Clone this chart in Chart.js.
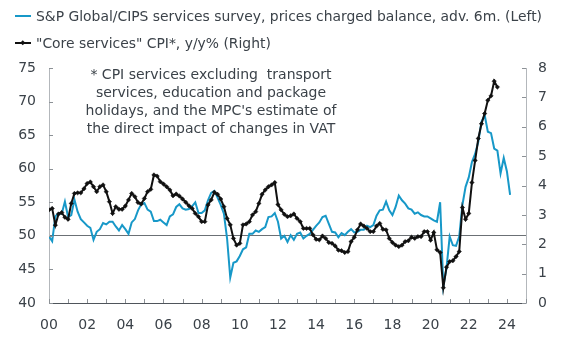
<!DOCTYPE html>
<html>
<head>
<meta charset="utf-8">
<script src="https://cdn.jsdelivr.net/npm/chart.js@4.4.1/dist/chart.umd.min.js"></script>
<style>
  body { margin: 0; background: #fff; }
  #wrap { position: relative; width: 571px; height: 345px; font-family: "DejaVu Sans", sans-serif; color: #3b4249; }
  canvas { position: absolute; left: 0; top: 0; }
  .key { position: absolute; left: 15px; font-size: 13.9px; line-height: 16px; white-space: nowrap; }
  .key svg { vertical-align: middle; margin-right: 5px; position: relative; top: -1px; }
  .note { position: absolute; left: 61px; width: 300px; top: 65px; text-align: center; font-size: 14px; line-height: 18px; white-space: pre; }
</style>
</head>
<body>
<div id="wrap">
  <canvas id="chart" width="571" height="345"></canvas>
  <div class="key" style="top:8px"><svg width="16" height="6"><line x1="0" y1="3" x2="16" y2="3" stroke="#1798c8" stroke-width="2"/></svg>S&amp;P Global/CIPS services survey, prices charged balance, adv. 6m. (Left)</div>
  <div class="key" style="top:35px"><svg width="16" height="6"><line x1="0" y1="3" x2="16" y2="3" stroke="#111" stroke-width="2"/><rect x="6" y="1" width="3.5" height="3.5" fill="#111" transform="rotate(45 7.75 2.75)"/></svg>"Core services" CPI*, y/y% (Right)</div>
  <div class="note">* CPI services excluding  transport
services, education and package
holidays, and the MPC's estimate of
the direct impact of changes in VAT</div>
</div>
<script>
// both series are bimonthly, starting January 2000
const startYear = 2000;
const step = 1 / 6;

// S&P Global/CIPS services PMI, prices charged, advanced 6 months (left axis)
const pmiPrices = [
  49.9, 49.2, 52.9, 53.4, 53.3, 55.1, 52.8, 53.1, 55.4, 53.6,
  52.5, 52.0, 51.5, 51.2, 49.4, 50.6, 51.0, 51.9, 51.7, 52.1,
  52.1, 51.4, 50.8, 51.6, 51.0, 50.3, 52.0, 52.5, 53.8, 54.7,
  54.9, 53.9, 53.6, 52.2, 52.2, 52.4, 52.0, 51.6, 52.9, 53.2,
  54.3, 54.7, 54.1, 53.9, 54.0, 54.4, 55.0, 53.4, 53.4, 53.8,
  55.3, 56.4, 56.7, 55.7, 54.6, 53.3, 49.6, 43.8, 46.0, 46.2,
  47.0, 48.0, 48.3, 50.3, 50.3, 50.8, 50.6, 51.0, 51.3, 52.8,
  52.9, 53.4, 52.1, 49.6, 50.0, 49.1, 50.1, 49.4, 50.3, 50.5,
  49.6, 50.0, 50.3, 50.9, 51.5, 52.0, 52.8, 53.0, 51.8, 50.6,
  50.5, 49.8, 50.4, 50.1, 50.6, 51.0, 50.5, 50.6, 50.9, 50.9,
  51.5, 51.3, 51.6, 53.0, 53.8, 53.9, 55.1, 53.8, 53.1, 54.3,
  56.0, 55.3, 54.8, 54.1, 53.9, 53.3, 53.5, 53.1, 52.9, 52.9,
  52.6, 52.3, 52.1, 55.0, 42.5, 45.2, 49.9, 48.6, 48.5, 49.9,
  54.6, 57.3, 58.7, 61.0, 62.2, 64.0, 67.0, 68.0, 65.5, 65.3,
  63.0, 62.7, 59.3, 61.6, 59.6, 56.1
];

// "core services" CPI, y/y % (right axis)
const coreServicesCpi = [
  3.17, 3.22, 2.65, 3.03, 3.08, 2.92, 2.85, 3.39, 3.73, 3.75,
  3.75, 3.89, 4.07, 4.12, 3.96, 3.79, 3.96, 4.02, 3.79, 3.45,
  3.05, 3.28, 3.19, 3.19, 3.30, 3.51, 3.73, 3.62, 3.42, 3.37,
  3.56, 3.79, 3.87, 4.36, 4.32, 4.13, 4.05, 3.96, 3.85, 3.65,
  3.71, 3.64, 3.54, 3.43, 3.31, 3.22, 3.05, 2.94, 2.77, 2.77,
  3.34, 3.51, 3.77, 3.70, 3.54, 3.28, 2.88, 2.66, 2.20, 1.97,
  2.03, 2.66, 2.69, 2.77, 3.00, 3.11, 3.39, 3.70, 3.85, 3.96,
  4.02, 4.10, 3.35, 3.17, 3.02, 2.94, 2.97, 3.03, 2.88, 2.77,
  2.54, 2.54, 2.54, 2.32, 2.17, 2.15, 2.28, 2.20, 2.06, 2.03,
  1.94, 1.80, 1.78, 1.72, 1.75, 2.09, 2.24, 2.49, 2.69, 2.62,
  2.54, 2.43, 2.43, 2.62, 2.71, 2.51, 2.49, 2.20, 2.06, 1.97,
  1.92, 1.97, 2.09, 2.12, 2.24, 2.20, 2.26, 2.26, 2.43, 2.43,
  2.14, 2.40, 1.81, 1.72, 0.52, 1.22, 1.41, 1.44, 1.58, 1.75,
  3.25, 2.85, 3.05, 4.10, 4.85, 5.60, 6.10, 6.45, 6.90, 7.05,
  7.55, 7.35
];

const leftTicks = [40, 45, 50, 55, 60, 65, 70, 75];
const rightTicks = [0, 1, 2, 3, 4, 5, 6, 7, 8];
const yearLabels = ['00', '02', '04', '06', '08', '10', '12', '14', '16', '18', '20', '22', '24'];

const toPoints = vals => vals.map((v, i) => ({ x: startYear + i * step, y: v }));

// small inward tick marks on all three axes
const tickMarks = {
  id: 'tickMarks',
  afterDraw(chart) {
    const { ctx, chartArea: a, scales } = chart;
    ctx.save();
    ctx.strokeStyle = '#8c9196';
    ctx.lineWidth = 1;
    ctx.beginPath();
    scales.x.ticks.forEach(t => {
      const px = Math.round(scales.x.getPixelForValue(t.value)) + 0.5;
      ctx.moveTo(px, a.bottom);
      ctx.lineTo(px, a.bottom - 4);
    });
    scales.y.ticks.forEach(t => {
      const py = Math.round(scales.y.getPixelForValue(t.value)) + 0.5;
      ctx.moveTo(a.left, py);
      ctx.lineTo(a.left + 4, py);
    });
    scales.y1.ticks.forEach(t => {
      const py = Math.round(scales.y1.getPixelForValue(t.value)) + 0.5;
      ctx.moveTo(a.right, py);
      ctx.lineTo(a.right - 4, py);
    });
    ctx.stroke();
    ctx.restore();
  }
};

Chart.defaults.font.family = '"DejaVu Sans", sans-serif';
Chart.defaults.font.size = 14;
Chart.defaults.color = '#3b4249';

new Chart(document.getElementById('chart'), {
  type: 'line',
  data: {
    datasets: [
      {
        label: '"Core services" CPI*, y/y% (Right)',
        data: toPoints(coreServicesCpi),
        yAxisID: 'y1',
        borderColor: '#111',
        borderWidth: 2,
        pointStyle: 'rectRot',
        pointRadius: 2.2,
        pointBackgroundColor: '#111',
        pointBorderColor: '#111',
        pointBorderWidth: 0.5,
        tension: 0
      },
      {
        label: 'S&P Global/CIPS services survey, prices charged balance, adv. 6m. (Left)',
        data: toPoints(pmiPrices),
        yAxisID: 'y',
        borderColor: '#1798c8',
        borderWidth: 2,
        pointRadius: 0,
        tension: 0
      }
    ]
  },
  options: {
    responsive: false,
    animation: false,
    devicePixelRatio: 1,
    layout: { padding: { top: 68, left: 0, right: 0, bottom: 0 } },
    plugins: { legend: { display: false }, tooltip: { enabled: false } },
    scales: {
      x: {
        type: 'linear',
        min: 2000,
        max: 2025,
        grid: { display: false },
        border: { color: '#4f555b', width: 1 },
        ticks: {
          stepSize: 1,
          autoSkip: false,
          maxRotation: 0,
          padding: 6,
          callback: v => {
            const i = yearLabels.indexOf(String(v % 100).padStart(2, '0'));
            return v % 2 === 0 && i >= 0 && v <= 2024 ? yearLabels[i] : '';
          }
        },
        afterFit: s => { s.height = 42; }
      },
      y: {
        position: 'left',
        min: leftTicks[0],
        max: leftTicks[leftTicks.length - 1],
        grid: {
          drawTicks: false,
          color: c => (c.tick && c.tick.value === 50 ? '#6b7075' : 'rgba(0,0,0,0)')
        },
        border: { color: '#b3b7bb', width: 1 },
        ticks: { stepSize: 5, padding: 13 },
        afterFit: s => { s.width = 49; }
      },
      y1: {
        position: 'right',
        min: rightTicks[0],
        max: rightTicks[rightTicks.length - 1],
        grid: { display: false },
        border: { color: '#b3b7bb', width: 1 },
        ticks: { stepSize: 1, padding: 4 },
        afterFit: s => { s.width = 45; }
      }
    }
  },
  plugins: [tickMarks]
});
</script>
</body>
</html>
